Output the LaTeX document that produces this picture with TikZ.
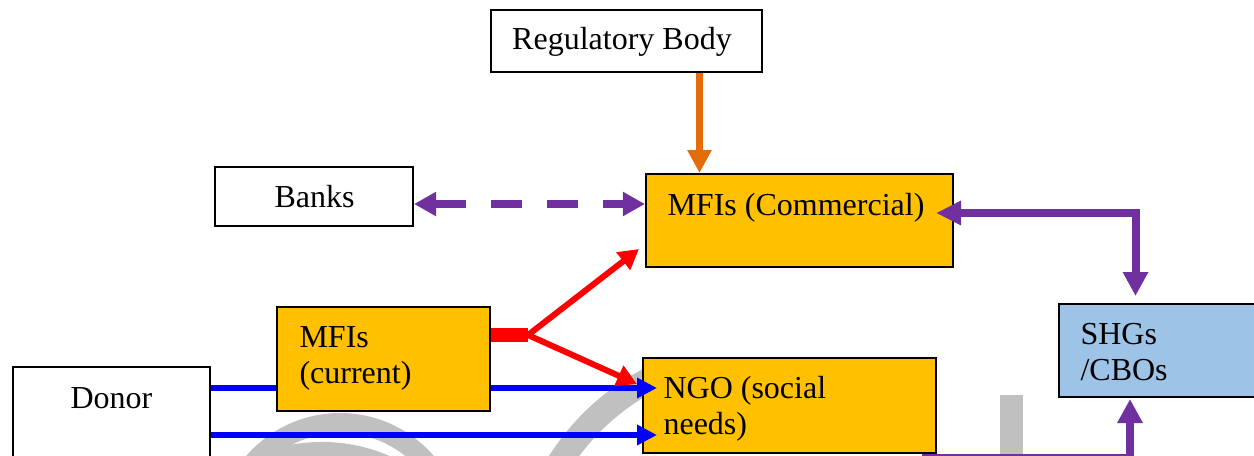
\documentclass[tikz,border=0pt]{standalone}
\usepackage{fontspec}
\setmainfont{Liberation Serif}
\usetikzlibrary{arrows.meta,fit,calc}
\definecolor{mfiyellow}{HTML}{FFC000}
\definecolor{shgblue}{HTML}{9DC3E6}
\definecolor{regorange}{HTML}{E46C0A}
\definecolor{linkpurple}{HTML}{7030A0}
\definecolor{watermark}{HTML}{C0C0C0}

\begin{document}
\begin{tikzpicture}[x=0.375pt,y=-0.375pt,
  box/.style={draw=black,line width=0.75pt,inner sep=0pt},
  plainbox/.style={box,fill=white},
  mfibox/.style={box,fill=mfiyellow},
  shgbox/.style={box,fill=shgblue},
  txt/.style={inner sep=0pt,font=\fontsize{12pt}{13.5pt}\selectfont,align=left},
  regarrow/.style={draw=regorange,line width=2.6pt,-{Triangle[width=8.6pt,length=8.6pt]}},
  banklink/.style={draw=linkpurple,line width=3pt,dash pattern=on 11.6pt off 9.4pt,
    {Triangle[width=8.6pt,length=8.3pt]}-{Triangle[width=8.6pt,length=8.3pt]}},
  shglink/.style={draw=linkpurple,line width=3pt,line join=miter},
  donorflow/.style={draw=blue,line width=2.6pt,-{Triangle[width=7.3pt,length=7.5pt]}},
  splitflow/.style={draw=red,line width=2.25pt,-{Triangle[width=8pt,length=7.5pt]}},
  wm/.style={draw=watermark}
]
\useasboundingbox (0,0) rectangle (1254,455);
\clip (0,0) rectangle (1254,455);

% faint watermark shapes in the background
\draw[wm,line width=7.5pt] (340,537) circle[radius=42.75pt];
\draw[wm,line width=9.4pt] (322,611) circle[radius=58.7pt];
\draw[wm,line width=9.4pt] (760,590) ++(112:89.06pt) arc[start angle=112,end angle=178,radius=89.06pt];
\fill[watermark] (1000,395) rectangle (1023,470);

% boxes and their texts (multi-line texts are anchored at their last baseline)
\node[plainbox,fit={(491,10)(762,72)}] (reg) {};
\node[txt,anchor=base] (regt) at (622,49.5) {Regulatory Body};
\node[plainbox,fit={(215,167)(413,226)}] (banks) {};
\node[txt,anchor=base] (bankst) at (314.5,207) {Banks};
\node[mfibox,fit={(646,174)(953,267)}] (mfic) {};
\node[txt,anchor=base west] (mfict) at (667,215) {MFIs (Commercial)};
\node[mfibox,fit={(642.5,358)(936,453)}] (ngo) {};
\node[txt,anchor=base west] (ngot) at (663,434) {NGO (social\\needs)};
\node[shgbox,fit={(1059,304)(1290,397)}] (shg) {};
\node[txt,anchor=base west] (shgt) at (1080,380) {SHGs\\/CBOs};
\node[plainbox,fit={(12.5,367)(210,480)}] (donor) {};
\node[txt,anchor=base] (donort) at (111.5,408) {Donor};

% donor funding flows (the upper one runs behind the current MFIs box)
\draw[donorflow] ($(donor.north east)+(0,22)$) -- ($(ngo.north west)+(15.5,31)$);
\draw[donorflow] ($(donor.north east)+(0,69)$) -- ($(ngo.north west)+(15.5,78)$);

\node[mfibox,fit={(277,307)(490,411)}] (mcur) {};
\node[txt,anchor=base west] (mcurt) at (299,383) {MFIs\\(current)};

% regulator
\draw[regarrow] ($(reg.south)+(73,0)$) -- ($(mfic.north)+(-100,0)$);

% banks <-> commercial MFIs
\draw[banklink] ($(banks.east)+(0,7.5)$) -- ($(mfic.west)+(0,-16.5)$);

% commercial MFIs <-> SHGs
\draw[shglink,{Triangle[width=8.6pt,length=9.4pt]}-{Triangle[width=9pt,length=9pt]}]
  ($(mfic.east)+(-18,-7.5)$) -| ($(shg.north west)+(77.5,-7)$);

% NGO -> SHGs
\draw[shglink,-{Triangle[width=9pt,length=9pt]}]
  ($(ngo.south east)+(-15,3.5)$) -| ($(shg.south west)+(72,1)$);

% current MFIs split into commercial MFIs and NGOs
\coordinate (fork) at ($(mcur.east)+(37,-24)$);
\draw[draw=red,line width=5.25pt] ($(mcur.east)+(0,-24)$) -- (fork);
\draw[splitflow] (fork) -- ($(mfic.south west)+(-6,-19)$);
\draw[splitflow] (fork) -- ($(ngo.north west)+(-4.5,27)$);
\end{tikzpicture}
\end{document}
